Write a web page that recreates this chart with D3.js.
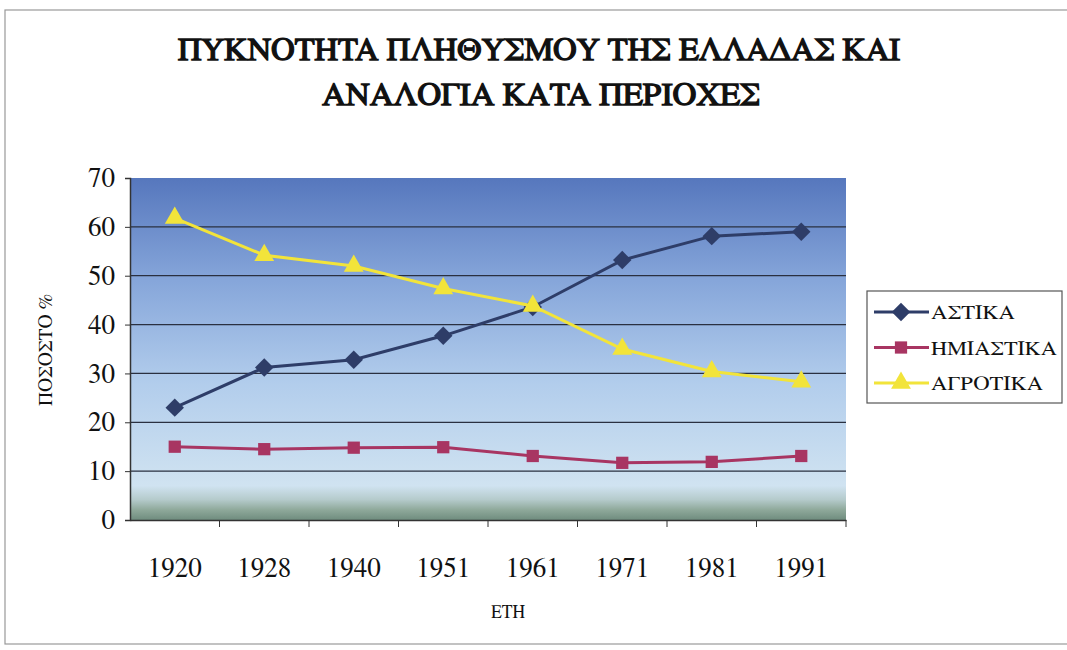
<!DOCTYPE html>
<html><head><meta charset="utf-8">
<script src="https://cdn.jsdelivr.net/npm/d3@7"></script>
<style>body{margin:0;background:#fff}svg{display:block}</style>
</head><body>
<svg id="c" width="1067" height="650"></svg>
<script>
const years = ["1920","1928","1940","1951","1961","1971","1981","1991"];
const astika = [23.0, 31.2, 32.8, 37.7, 43.6, 53.2, 58.1, 59.0];
const imiastika = [15.0, 14.5, 14.8, 14.9, 13.1, 11.7, 11.9, 13.1];
const agrotika = [61.8, 54.2, 52.0, 47.4, 43.8, 35.0, 30.4, 28.3];
const seriesNames = ["ΑΣΤΙΚΑ","ΗΜΙΑΣΤΙΚΑ","ΑΓΡΟΤΙΚΑ"];
const yTicks = [0,10,20,30,40,50,60,70];

const svg = d3.select("#c");
const font = "FreeSerif,'DejaVu Serif','Liberation Serif',serif";
const L=130, R=846, T=178, B=520;
const x = d3.scaleBand().domain(years).range([L,R]);
const y = d3.scaleLinear().domain([0,70]).range([B,T]);

// outer frame
svg.append("rect").attr("x",5).attr("y",10).attr("width",1080).attr("height",634)
  .attr("fill","#fff").attr("stroke","#999").attr("stroke-width",1.2);

// title (FreeSerif regular, emboldened by stroke)
[["ΠΥΚΝΟΤΗΤΑ ΠΛΗΘΥΣΜΟΥ ΤΗΣ ΕΛΛΑΔΑΣ ΚΑΙ",539,60,722],["ΑΝΑΛΟΓΙΑ ΚΑΤΑ ΠΕΡΙΟΧΕΣ",541,105,438]]
.forEach(([t,tx,ty,tl])=>{
  svg.append("text").attr("x",tx).attr("y",ty).attr("text-anchor","middle")
    .attr("font-family",font).attr("font-size",32)
    .attr("fill","#111").attr("stroke","#111").attr("stroke-width",1.3)
    .attr("textLength",tl).attr("lengthAdjust","spacingAndGlyphs").text(t);
});

// plot background gradient
const defs = svg.append("defs");
const g = defs.append("linearGradient").attr("id","bg").attr("x1",0).attr("x2",0).attr("y1",0).attr("y2",1);
[[0,"#5677bd"],[0.3,"#86a6da"],[0.6,"#b2cdec"],[0.9,"#d0e3f1"],[0.94,"#b5cbcc"],[0.97,"#8fa99b"],[1,"#6f8c7e"]]
  .forEach(([o,c])=>g.append("stop").attr("offset",o).attr("stop-color",c));
svg.append("rect").attr("x",L).attr("y",T).attr("width",R-L).attr("height",B-T).attr("fill","url(#bg)");

// gridlines
svg.append("g").selectAll("line").data(yTicks.filter(d=>d>0&&d<70)).join("line")
  .attr("x1",L).attr("x2",R).attr("y1",d=>y(d)).attr("y2",d=>y(d))
  .attr("stroke","#2a3040").attr("stroke-width",1.3);

// axes
const yAxis = svg.append("g").attr("transform",`translate(${L},0)`)
  .call(d3.axisLeft(y).tickValues(yTicks).tickSize(5).tickPadding(10));
yAxis.select(".domain").attr("stroke","#333").attr("stroke-width",1.5);
yAxis.selectAll(".tick line").attr("stroke","#333");
yAxis.selectAll("text").attr("font-family",font).attr("font-size",27).attr("fill","#111");

const xAxis = svg.append("g").attr("transform",`translate(0,${B})`)
  .call(d3.axisBottom(x).tickSize(0).tickPadding(38));
xAxis.select(".domain").attr("stroke","#333").attr("stroke-width",1.5);
xAxis.selectAll("text").attr("font-family",font).attr("font-size",27).attr("fill","#111");
// category boundary ticks
svg.append("g").selectAll("line").data(years.slice(1).concat(["end"])).join("line")
  .attr("x1",d=>d==="end"?R:x(d)).attr("x2",d=>d==="end"?R:x(d))
  .attr("y1",B).attr("y2",B+7).attr("stroke","#333").attr("stroke-width",1);

// axis titles
svg.append("text").attr("x",508).attr("y",618).attr("text-anchor","middle")
  .attr("font-family",font).attr("font-size",20).attr("fill","#111")
  .attr("textLength",34).attr("lengthAdjust","spacingAndGlyphs").text("ΕΤΗ");
svg.append("text").attr("transform","translate(52,350) rotate(-90)").attr("text-anchor","middle")
  .attr("font-family",font).attr("font-size",20).attr("fill","#111")
  .attr("textLength",112).attr("lengthAdjust","spacingAndGlyphs").text("ΠΟΣΟΣΤΟ %");

// series
const diamond = {draw(ctx,size){const r=Math.sqrt(size/2);ctx.moveTo(0,-r);ctx.lineTo(r,0);ctx.lineTo(0,r);ctx.lineTo(-r,0);ctx.closePath();}};
const series = [
  {name:seriesNames[0], vals:astika, color:"#2e3d68", sym:diamond, size:170, tl:84},
  {name:seriesNames[1], vals:imiastika, color:"#a83562", sym:d3.symbolSquare, size:150, tl:126},
  {name:seriesNames[2], vals:agrotika, color:"#f2e43a", sym:d3.symbolTriangle, size:170, tl:112}
];
const cx = d => x(d)+x.bandwidth()/2;
const line = d3.line().x(d=>cx(d[0])).y(d=>y(d[1]));
series.forEach(s=>{
  const pts = years.map((yr,i)=>[yr,s.vals[i]]);
  svg.append("path").datum(pts).attr("d",line).attr("fill","none")
    .attr("stroke",s.color).attr("stroke-width",3);
  svg.append("g").selectAll("path").data(pts).join("path")
    .attr("d",d3.symbol(s.sym,s.size))
    .attr("transform",d=>`translate(${cx(d[0])},${y(d[1])})`)
    .attr("fill",s.color);
});

// legend
const lg = svg.append("g");
lg.append("rect").attr("x",867).attr("y",291).attr("width",195).attr("height",112)
  .attr("fill","#fff").attr("stroke","#555").attr("stroke-width",1.2);
series.forEach((s,i)=>{
  const ly = 312+i*35.5;
  lg.append("line").attr("x1",874).attr("x2",929).attr("y1",ly).attr("y2",ly)
    .attr("stroke",s.color).attr("stroke-width",3);
  lg.append("path").attr("d",d3.symbol(s.sym,s.size)).attr("transform",`translate(901,${ly})`).attr("fill",s.color);
  lg.append("text").attr("x",931).attr("y",ly+7).attr("font-family",font).attr("font-size",20)
    .attr("fill","#111").attr("textLength",s.tl).attr("lengthAdjust","spacingAndGlyphs").text(s.name);
});
</script>
</body></html>
